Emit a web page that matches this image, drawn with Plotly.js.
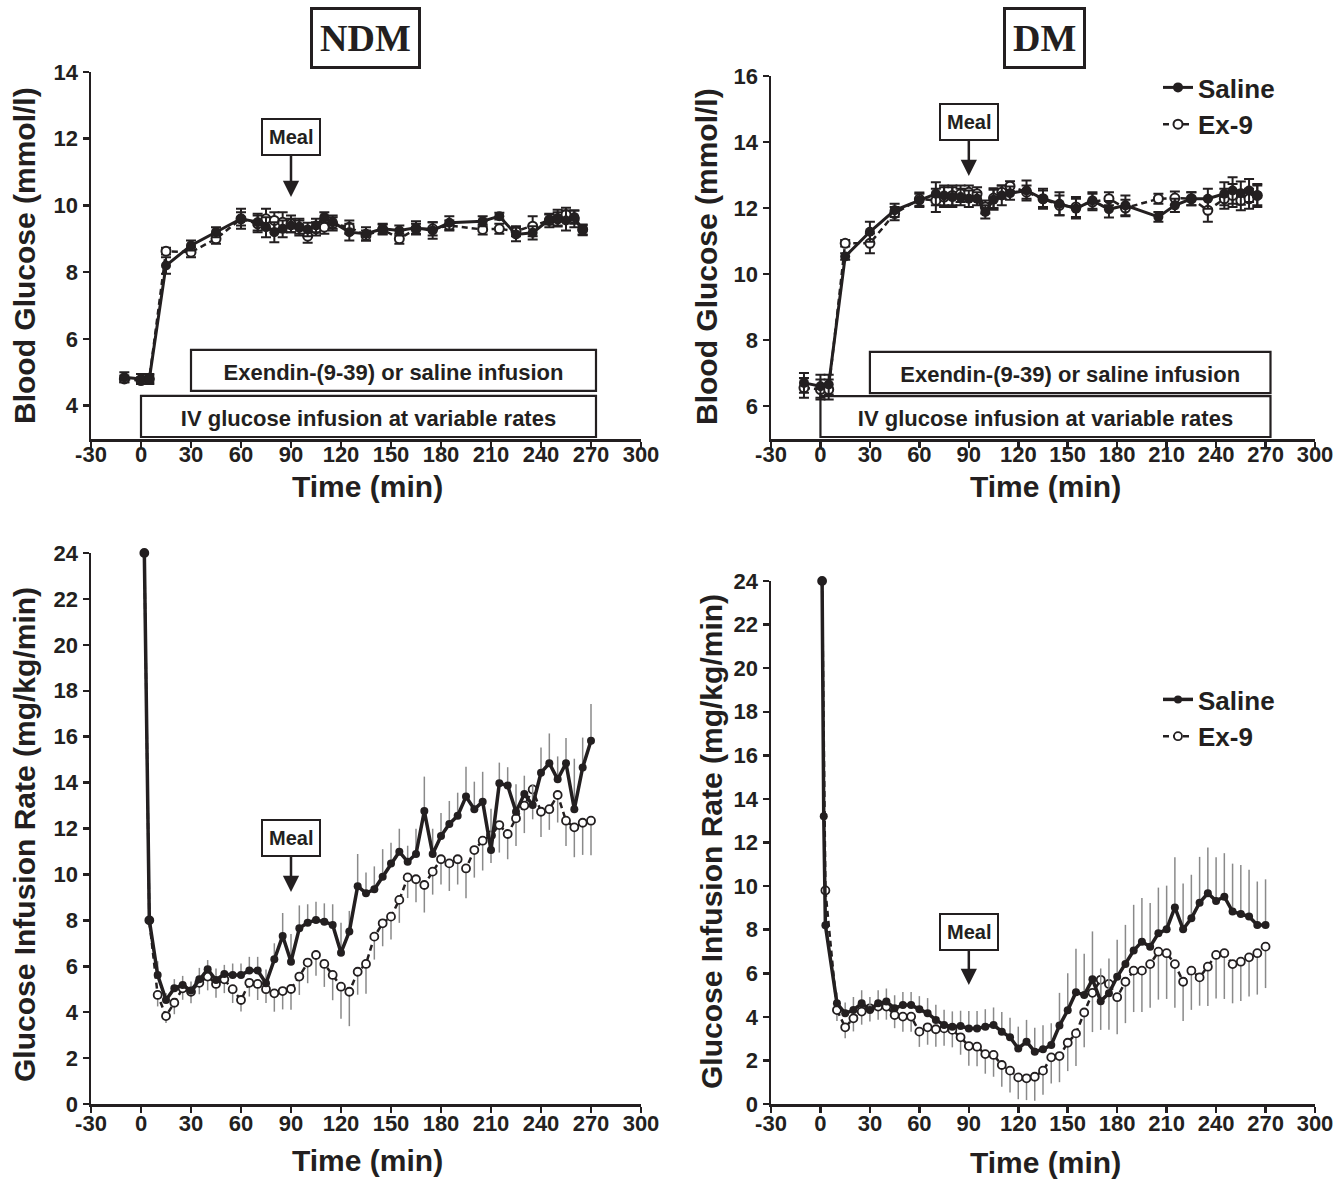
<!DOCTYPE html>
<html>
<head>
<meta charset="utf-8">
<script src="https://cdn.plot.ly/plotly-3.0.1.min.js"></script>
<style>html,body{margin:0;padding:0;background:#fff}#chart{width:1337px;height:1179px}</style>
</head>
<body>
<div id="chart"></div>
<script>
// ---------------- DATA ----------------
// Blood glucose sampling times (min)
const T_BG = [-10,0,5,15,30,45,60,70,75,80,85,90,95,100,105,110,115,125,135,145,155,165,175,185,205,215,225,235,245,250,255,260,265];

// NDM blood glucose (mmol/l)
const NDM_BG_SALINE    = [4.85,4.8,4.8,8.2,8.8,9.2,9.6,9.5,9.35,9.2,9.3,9.4,9.35,9.28,9.4,9.65,9.5,9.2,9.15,9.3,9.25,9.33,9.25,9.48,9.53,9.68,9.13,9.18,9.58,9.62,9.55,9.65,9.26];
const NDM_BG_SALINE_SE = [0.15,0.15,0.15,0.25,0.15,0.15,0.3,0.25,0.3,0.3,0.25,0.2,0.25,0.2,0.2,0.15,0.2,0.25,0.2,0.15,0.15,0.2,0.25,0.2,0.15,0.1,0.2,0.2,0.15,0.25,0.3,0.2,0.15];
const NDM_BG_EX9       = [4.8,4.75,4.8,8.63,8.6,9.0,9.6,9.45,9.6,9.55,9.5,9.45,9.35,9.08,9.3,9.35,9.45,9.35,9.1,9.28,9.0,9.3,9.3,9.4,9.28,9.3,9.23,9.38,9.55,9.6,9.73,9.6,9.28];
const NDM_BG_EX9_SE    = [0.1,0.1,0.1,0.1,0.15,0.15,0.2,0.25,0.3,0.25,0.3,0.25,0.2,0.2,0.2,0.2,0.2,0.2,0.15,0.15,0.15,0.15,0.2,0.15,0.15,0.15,0.15,0.3,0.2,0.2,0.2,0.25,0.15];

// DM blood glucose (mmol/l)
const DM_BG_SALINE    = [6.7,6.6,6.65,10.53,11.28,11.93,12.23,12.43,12.38,12.33,12.33,12.28,12.28,11.88,12.25,12.38,12.45,12.53,12.28,12.13,11.98,12.23,11.96,12.08,11.73,12.08,12.28,12.28,12.43,12.53,12.45,12.53,12.38];
const DM_BG_SALINE_SE = [0.3,0.35,0.3,0.1,0.3,0.2,0.2,0.35,0.3,0.3,0.25,0.25,0.2,0.2,0.3,0.3,0.2,0.3,0.3,0.35,0.3,0.25,0.25,0.3,0.15,0.2,0.2,0.3,0.35,0.4,0.35,0.35,0.35];
const DM_BG_EX9       = [6.55,6.5,6.5,10.93,10.93,11.83,12.27,12.23,12.33,12.38,12.43,12.48,12.43,12.03,12.3,12.48,12.66,12.48,12.28,12.08,12.03,12.18,12.28,12.0,12.28,12.3,12.28,11.93,12.28,12.38,12.23,12.28,12.38];
const DM_BG_EX9_SE    = [0.3,0.3,0.3,0.1,0.3,0.2,0.2,0.35,0.3,0.3,0.25,0.2,0.2,0.2,0.3,0.2,0.15,0.2,0.25,0.3,0.3,0.25,0.2,0.25,0.15,0.2,0.2,0.35,0.3,0.35,0.3,0.3,0.3];

// NDM glucose infusion rate (mg/kg/min)
const T_GIR_NDM = [2,5,10,15,20,25,30,35,40,45,50,55,60,65,70,75,80,85,90,95,100,105,110,115,120,125,130,135,140,145,150,155,160,165,170,175,180,185,190,195,200,205,210,215,220,225,230,235,240,245,250,255,260,265,270];
const NDM_GIR_SALINE    = [24,8.0,5.62,4.53,5.04,5.18,4.94,5.43,5.87,5.40,5.66,5.62,5.62,5.81,5.81,5.26,6.30,7.32,6.20,7.65,7.90,8.01,7.94,7.80,6.59,7.51,9.49,9.18,9.35,9.9,10.48,10.99,10.55,10.89,12.76,10.89,11.67,12.2,12.56,13.39,12.84,13.17,11.06,13.97,13.87,12.73,13.5,13.02,14.43,14.84,14.14,14.84,12.84,14.66,15.82];
const NDM_GIR_SALINE_SE = [0,0.3,0.6,0.3,0.4,0.4,0.4,0.5,0.4,0.5,0.4,0.5,0.5,0.6,0.6,0.6,0.7,1.0,1.2,1.0,0.8,0.8,0.8,0.9,1.3,0.9,1.4,0.9,1.0,1.2,0.9,1.0,0.7,1.1,1.5,1.1,1.0,1.0,1.0,1.3,1.2,1.3,1.8,0.9,0.8,1.2,0.8,0.9,1.1,1.3,1.0,1.1,2.2,1.3,1.6];
const NDM_GIR_EX9       = [24,8.0,4.75,3.83,4.41,5.04,4.89,5.28,5.55,5.23,5.43,5.0,4.53,5.28,5.23,5.0,4.82,4.92,5.01,5.55,6.16,6.49,6.1,5.62,5.11,4.89,5.76,6.1,7.29,7.87,8.16,8.89,9.87,9.79,9.54,10.12,10.66,10.48,10.66,10.26,11.06,11.47,11.7,12.15,11.76,12.44,13.0,13.7,12.73,12.84,13.46,12.34,12.05,12.25,12.34];
const NDM_GIR_EX9_SE    = [0,0.3,0.5,0.3,0.5,0.5,0.5,0.5,0.6,0.6,0.6,0.6,0.5,0.6,0.7,0.6,0.8,0.8,0.9,0.8,0.9,0.9,1.0,1.1,1.4,1.5,1.0,1.3,1.0,1.0,1.0,1.0,0.9,1.0,1.2,1.0,1.1,1.2,1.1,1.3,1.2,1.3,1.2,1.2,1.1,1.2,1.2,1.3,1.1,0.9,1.2,1.1,1.3,1.4,1.5];

// DM glucose infusion rate (mg/kg/min)
const T_GIR_DM_SALINE = [1,2,3,10,15,20,25,30,35,40,45,50,55,60,65,70,75,80,85,90,95,100,105,110,115,120,125,130,135,140,145,150,155,160,165,170,175,180,185,190,195,200,205,210,215,220,225,230,235,240,245,250,255,260,265,270];
const DM_GIR_SALINE    = [24,13.2,8.2,4.62,4.16,4.31,4.62,4.31,4.62,4.70,4.39,4.54,4.54,4.35,4.16,3.86,3.63,3.55,3.58,3.47,3.47,3.55,3.63,3.32,3.06,2.55,2.86,2.40,2.51,2.71,3.6,4.3,5.13,5.0,5.72,4.72,5.08,5.84,6.42,7.04,7.45,7.22,7.83,8.02,9.02,8.02,8.52,9.24,9.67,9.32,9.51,8.83,8.72,8.6,8.21,8.21];
const DM_GIR_SALINE_SE = [0,0,0,0.5,0.5,0.6,0.6,0.6,0.6,0.6,0.6,0.6,0.6,0.6,0.7,0.7,0.7,0.7,0.7,0.8,0.8,0.8,0.8,0.9,0.9,1.0,1.0,1.1,1.1,1.0,1.5,1.7,2.0,1.9,2.2,1.5,1.6,1.7,1.8,2.1,2.0,2.0,2.1,2.0,2.3,2.1,2.0,2.1,2.1,2.0,2.0,2.2,2.25,2.15,2.0,2.1];
const T_GIR_DM_EX9 = [1,3,10,15,20,25,30,35,40,45,50,55,60,65,70,75,80,85,90,95,100,105,110,115,120,125,130,135,140,145,150,155,160,165,170,175,180,185,190,195,200,205,210,215,220,225,230,235,240,245,250,255,260,265,270];
const DM_GIR_EX9       = [24,9.8,4.31,3.52,3.93,4.24,4.39,4.47,4.47,4.08,4.01,4.01,3.32,3.52,3.43,3.47,3.40,3.06,2.66,2.63,2.29,2.25,1.79,1.53,1.22,1.18,1.25,1.53,2.14,2.20,2.81,3.24,4.2,5.1,5.7,5.51,4.9,5.61,6.12,6.12,6.42,6.99,6.92,6.42,5.61,6.12,5.81,6.3,6.84,6.92,6.42,6.53,6.73,6.92,7.22];
const DM_GIR_EX9_SE    = [0,0,0.5,0.5,0.6,0.6,0.6,0.6,0.6,0.6,0.7,0.7,0.7,0.8,0.8,0.8,0.8,0.8,0.9,0.9,0.9,1.0,1.0,1.0,1.0,1.0,1.1,1.1,1.2,1.2,1.3,1.5,1.6,1.8,2.3,2.1,1.7,1.9,1.9,1.9,2.0,2.2,2.1,2.0,1.8,1.8,1.3,1.8,2.0,2.1,1.8,1.8,1.8,1.9,1.9];

// Axis ticks and labels
const X_TICKS = [-30,0,30,60,90,120,150,180,210,240,270,300];
const X_TICK_TEXT = ['-30','0','30','60','90','120','150','180','210','240','270','300'];
const Y_TICKS_NDM_BG = [4,6,8,10,12,14];
const Y_TICKS_DM_BG = [6,8,10,12,14,16];
const Y_TICKS_GIR = [0,2,4,6,8,10,12,14,16,18,20,22,24];

const SERIES_NAMES = ['Saline','Ex-9'];
const PANEL_TITLES = ['NDM','DM'];
const X_TITLE = 'Time (min)';
const Y_TITLE_BG = 'Blood Glucose (mmol/l)';
const Y_TITLE_GIR = 'Glucose Infusion Rate (mg/kg/min)';
const BOX_EXENDIN = 'Exendin-(9-39) or saline infusion';
const BOX_IV = 'IV glucose infusion at variable rates';
const MEAL = 'Meal';

// ---------------- STYLE ----------------
const W = 1337, H = 1179;
const INK = '#231f20';
const SANS = 'Liberation Sans, Arial, Helvetica, sans-serif';
const NARROW = 'Liberation Sans Narrow, Arial Narrow, Liberation Sans, Arial, sans-serif';
const SERIF = 'Liberation Serif, Times New Roman, serif';
const TICKFONT = {family: NARROW, size: 22, weight: 'bold', color: INK};
const DASH = '6px,4px';

function xAxis(l, r, anchor, standoff) {
  return {domain: [l / W, r / W], range: [-30, 300], anchor: anchor,
    tickvals: X_TICKS, ticktext: X_TICK_TEXT, ticklabelstandoff: standoff, ticklabeloverflow: 'allow',
    showline: true, linewidth: 2.5, linecolor: INK, ticks: 'outside', ticklen: 6, tickwidth: 2.5, tickcolor: INK,
    showgrid: false, zeroline: false, tickfont: TICKFONT, fixedrange: true};
}
function yAxis(top, bottom, range, ticks, anchor) {
  return {domain: [1 - bottom / H, 1 - top / H], range: range, anchor: anchor,
    tickvals: ticks, ticktext: ticks.map(String),
    showline: true, linewidth: 2.5, linecolor: INK, ticks: 'outside', ticklen: 6, tickwidth: 2.5, tickcolor: INK,
    showgrid: false, zeroline: false, tickfont: TICKFONT, fixedrange: true};
}

function bgTrace(x, y, se, xa, ya, open, legend) {
  return {
    x: x, y: y, xaxis: xa, yaxis: ya, type: 'scatter', mode: 'lines+markers',
    name: open ? SERIES_NAMES[1] : SERIES_NAMES[0], cliponaxis: false,
    showlegend: !!legend, legend: legend || 'legend',
    line: {color: INK, width: open ? 2.5 : 3, dash: open ? DASH : 'solid'},
    marker: open ? {symbol: 'circle', size: 9, color: 'white', line: {color: INK, width: 2}}
                 : {symbol: 'circle', size: 10, color: INK, line: {width: 0}},
    error_y: {type: 'data', array: se, visible: true, color: INK, thickness: 2, width: 5}
  };
}
function girTrace(x, y, se, xa, ya, open, legend) {
  const zeros = se.map(function () { return 0; });
  return {
    x: x, y: y, xaxis: xa, yaxis: ya, type: 'scatter', mode: 'lines+markers',
    name: open ? SERIES_NAMES[1] : SERIES_NAMES[0], cliponaxis: false,
    showlegend: !!legend, legend: legend || 'legend',
    line: {color: INK, width: open ? 2.5 : 3.5, dash: open ? DASH : 'solid'},
    marker: open ? {symbol: 'circle', size: 8, color: 'white', line: {color: INK, width: 1.8}}
                 : {symbol: 'circle', size: 8, color: INK, line: {width: 0}},
    error_y: open ? {type: 'data', symmetric: false, array: zeros, arrayminus: se, visible: true, color: '#8a8a8a', thickness: 1.5, width: 0}
                  : {type: 'data', symmetric: false, array: se, arrayminus: zeros, visible: true, color: '#8a8a8a', thickness: 1.5, width: 0}
  };
}

// Ex-9 drawn first so the saline series sits on top; legends are reversed to list Saline first.
const traces = [
  bgTrace(T_BG, NDM_BG_EX9, NDM_BG_EX9_SE, 'x', 'y', true),
  bgTrace(T_BG, NDM_BG_SALINE, NDM_BG_SALINE_SE, 'x', 'y', false),
  bgTrace(T_BG, DM_BG_EX9, DM_BG_EX9_SE, 'x2', 'y2', true, 'legend'),
  bgTrace(T_BG, DM_BG_SALINE, DM_BG_SALINE_SE, 'x2', 'y2', false, 'legend'),
  girTrace(T_GIR_NDM, NDM_GIR_EX9, NDM_GIR_EX9_SE, 'x3', 'y3', true),
  girTrace(T_GIR_NDM, NDM_GIR_SALINE, NDM_GIR_SALINE_SE, 'x3', 'y3', false),
  girTrace(T_GIR_DM_EX9, DM_GIR_EX9, DM_GIR_EX9_SE, 'x4', 'y4', true, 'legend2'),
  girTrace(T_GIR_DM_SALINE, DM_GIR_SALINE, DM_GIR_SALINE_SE, 'x4', 'y4', false, 'legend2')
];

function titleAnn(text, cx, cy, angle) {
  return {xref: 'paper', yref: 'paper', x: cx / W, y: 1 - cy / H, xanchor: 'center', yanchor: 'middle',
    text: text, showarrow: false, textangle: angle || 0,
    font: {family: SANS, size: 30, weight: 'bold', color: INK}};
}
function mealAnn(xa, ya, x, y, ay) {
  return {xref: xa, yref: ya, x: x, y: y, text: MEAL, showarrow: true, ax: 0, ay: ay,
    arrowhead: 2, arrowsize: 1.3, arrowwidth: 2.5, arrowcolor: INK, standoff: 0,
    bordercolor: INK, borderwidth: 2, borderpad: 6, bgcolor: 'white',
    font: {family: SANS, size: 20, weight: 'bold', color: INK}};
}
function panelAnn(text, cx, cy) {
  return {xref: 'paper', yref: 'paper', x: cx / W, y: 1 - cy / H, xanchor: 'center', yanchor: 'middle',
    text: text, showarrow: false, bordercolor: INK, borderwidth: 3, borderpad: 7, bgcolor: 'white',
    font: {family: SERIF, size: 38, weight: 'bold', color: INK}};
}
function boxShape(xa, ya, x0, x1, y0, y1, text) {
  return {type: 'rect', xref: xa, yref: ya, x0: x0, x1: x1, y0: y0, y1: y1,
    line: {color: INK, width: 2.2}, fillcolor: 'white', layer: 'below',
    label: {text: text, textposition: 'middle center', font: {family: SANS, size: 22, weight: 'bold', color: INK}}};
}

const legendStyle = {xanchor: 'left', yanchor: 'top', bgcolor: 'rgba(0,0,0,0)', borderwidth: 0, traceorder: 'reversed',
  font: {family: SANS, size: 26, weight: 'bold', color: INK}, tracegroupgap: 0, itemwidth: 30};

const layout = {
  width: W, height: H, margin: {l: 0, r: 0, t: 0, b: 0},
  paper_bgcolor: 'white', plot_bgcolor: 'rgba(0,0,0,0)',
  xaxis: xAxis(91, 641, 'y', -12),
  yaxis: yAxis(72, 439, [3, 14], Y_TICKS_NDM_BG, 'x'),
  xaxis2: xAxis(771, 1315, 'y2', -12),
  yaxis2: yAxis(76, 439, [5, 16], Y_TICKS_DM_BG, 'x2'),
  xaxis3: xAxis(91, 641, 'y3', -8),
  yaxis3: yAxis(553, 1104, [0, 24], Y_TICKS_GIR, 'x3'),
  xaxis4: xAxis(771, 1315, 'y4', -8),
  yaxis4: yAxis(581, 1104, [0, 24], Y_TICKS_GIR, 'x4'),
  legend: Object.assign({x: 1158 / W, y: 1 - 64 / H}, legendStyle),
  legend2: Object.assign({x: 1158 / W, y: 1 - 676 / H}, legendStyle),
  shapes: [
    boxShape('x', 'y', 30, 273, 4.44, 5.67, BOX_EXENDIN),
    boxShape('x', 'y', 0, 273, 3.06, 4.29, BOX_IV),
    boxShape('x2', 'y2', 30, 273, 6.39, 7.64, BOX_EXENDIN),
    boxShape('x2', 'y2', 0, 273, 5.06, 6.30, BOX_IV)
  ],
  annotations: [
    panelAnn(PANEL_TITLES[0], 365, 38),
    panelAnn(PANEL_TITLES[1], 1044, 38),
    titleAnn(Y_TITLE_BG, 25, 256, -90),
    titleAnn(Y_TITLE_BG, 707, 256, -90),
    titleAnn(Y_TITLE_GIR, 25, 835, -90),
    titleAnn(Y_TITLE_GIR, 711, 842, -90),
    titleAnn(X_TITLE, 367, 486),
    titleAnn(X_TITLE, 1045, 486),
    titleAnn(X_TITLE, 367, 1160),
    titleAnn(X_TITLE, 1045, 1162),
    mealAnn('x', 'y', 90, 10.25, -60),
    mealAnn('x2', 'y2', 90, 12.97, -54),
    mealAnn('x3', 'y3', 90, 9.23, -54),
    mealAnn('x4', 'y4', 90, 5.46, -53)
  ]
};

Plotly.newPlot('chart', traces, layout, {staticPlot: true, displayModeBar: false});
</script>
</body>
</html>
